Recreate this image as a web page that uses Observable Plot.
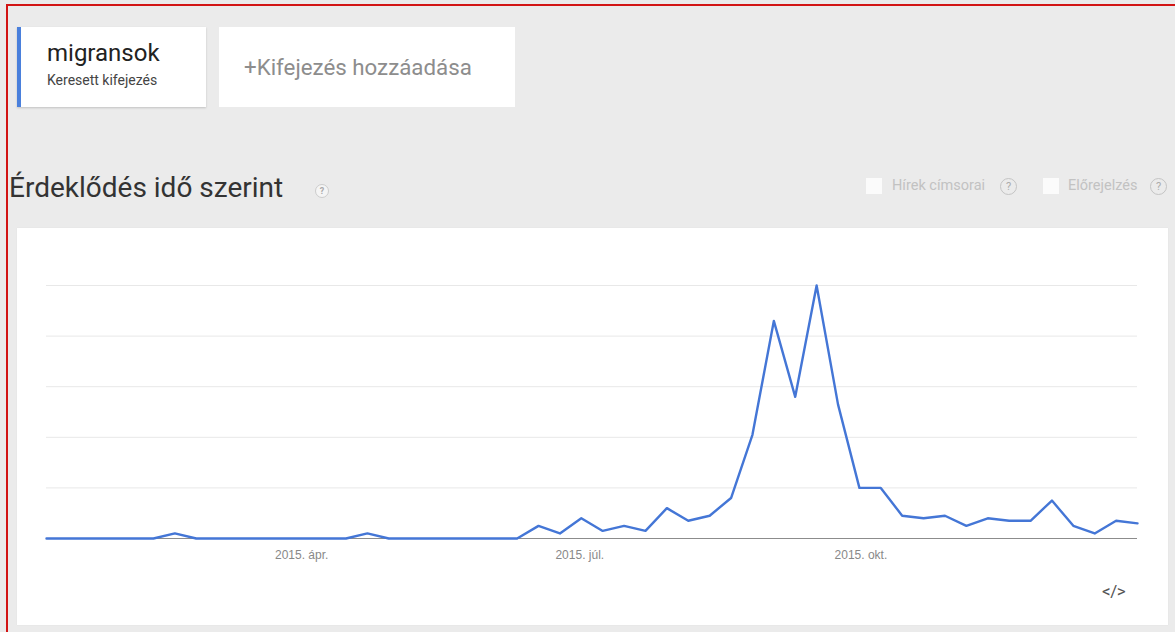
<!DOCTYPE html>
<html>
<head>
<meta charset="utf-8">
<script src="https://cdn.jsdelivr.net/npm/d3@7"></script>
<script src="https://cdn.jsdelivr.net/npm/@observablehq/plot@0.6"></script>
<style>
  html, body { margin: 0; padding: 0; }
  body { width: 1175px; height: 632px; overflow: hidden; background: #ebebeb; position: relative; font-family: Roboto, "Noto Sans", Arial, sans-serif; }
  .frame { position: absolute; left: 6px; top: 4px; width: 1175px; height: 640px; border-left: 2px solid #d21414; border-top: 2px solid #d21414; box-sizing: border-box; pointer-events: none; z-index: 5; }
  .card { position: absolute; background: #fff; box-shadow: 0 1px 2px rgba(0,0,0,0.18); }
  #term { left: 17px; top: 27px; width: 189px; height: 80px; border-left: 4px solid #4a80dc; box-sizing: border-box; }
  #term .t1 { position: absolute; left: 26px; top: 12px; font-size: 24px; color: #222; }
  #term .t2 { position: absolute; left: 26px; top: 45px; font-size: 14px; color: #444; }
  #add { left: 219px; top: 27px; width: 296px; height: 80px; box-shadow: none; }
  #add .t { position: absolute; left: 25px; top: 27px; font-size: 22.3px; color: #8d8d8d; }
  #title { position: absolute; left: 9px; top: 174px; font-size: 28px; line-height: 28px; color: #333; }
  .q { position: absolute; width: 14px; height: 14px; border-radius: 50%; box-sizing: border-box; border: 1px solid #ccc; background: #f5f5f5; color: #aaa; font-size: 9px; font-weight: bold; text-align: center; line-height: 12px; }
  .qq { position: absolute; width: 17px; height: 17px; border-radius: 50%; box-sizing: border-box; border: 1px solid #c4c4c4; color: #aaa; font-size: 11px; text-align: center; line-height: 15px; }
  .cb { position: absolute; width: 16px; height: 16px; background: #fbfbfb; }
  .lbl { position: absolute; font-size: 14.5px; color: #c2c2c2; }
  #chartcard { left: 17px; top: 228px; width: 1151px; height: 397px; box-shadow: 0 0 1px rgba(0,0,0,0.08); }
  #chartcard svg { position: absolute; left: 0; top: 0; }
  #embed { position: absolute; left: 1102px; top: 581px; font-size: 17px; color: #555; letter-spacing: -0.5px; }
</style>
</head>
<body>
<div class="frame"></div>
<div class="card" id="term"><div class="t1">migransok</div><div class="t2">Keresett kifejezés</div></div>
<div class="card" id="add"><div class="t">+Kifejezés hozzáadása</div></div>
<div id="title">Érdeklődés idő szerint</div>
<div class="q" style="left:315px;top:184px;">?</div>
<div class="cb" style="left:866px;top:178px;"></div>
<div class="lbl" style="left:892px;top:177px;">Hírek címsorai</div>
<div class="qq" style="left:1000px;top:178px;">?</div>
<div class="cb" style="left:1043px;top:178px;"></div>
<div class="lbl" style="left:1068px;top:177px;">Előrejelzés</div>
<div class="qq" style="left:1150px;top:178px;">?</div>
<div class="card" id="chartcard"></div>
<div id="embed">&lt;/&gt;</div>
<script>
// Weekly search interest for "migransok" (Google Trends, 0–100), weeks from early Jan 2015
const weekStart = "2015-01-04";
const values = [0,0,0,0,0,0,2,0,0,0,0,0,0,0,0,2,0,0,0,0,0,0,0,5,2,8,3,5,3,12,7,9,16,41,86,56,100,53,20,20,9,8,9,5,8,7,7,15,5,2,7,6];
const tickDates = ["2015-04-01", "2015-07-01", "2015-10-01"];
const tickLabels = ["2015. ápr.", "2015. júl.", "2015. okt."];
const gridValues = [20, 40, 60, 80, 100];

const start = new Date(weekStart + "T12:00:00Z");
const data = values.map((v, i) => ({ date: d3.utcDay.offset(start, i * 7 + 3), value: v }));
const ticks = tickDates.map(s => new Date(s + "T00:00:00Z"));

const chart = Plot.plot({
  width: 1151,
  height: 397,
  marginLeft: 29,
  marginRight: 31,
  marginTop: 57,
  marginBottom: 87,
  x: { type: "utc", domain: [data[0].date, data[data.length - 1].date] },
  y: { domain: [0, 100], axis: null },
  style: { background: "transparent", fontFamily: "'Liberation Sans', Arial, sans-serif", fontSize: "12px", color: "#888" },
  marks: [
    Plot.ruleY(gridValues, { stroke: "#e8e8e8", strokeWidth: 1 }),
    Plot.ruleY([0], { stroke: "#8c8c8c", strokeWidth: 1 }),
    Plot.axisX(ticks, {
      tickSize: 0,
      tickPadding: 12,
      label: null,
      tickFormat: d => tickLabels[ticks.findIndex(t => +t === +d)]
    }),
    Plot.line(data, { x: "date", y: "value", stroke: "#4476d6", strokeWidth: 2.4 })
  ]
});
document.getElementById("chartcard").appendChild(chart);
</script>
</body>
</html>
